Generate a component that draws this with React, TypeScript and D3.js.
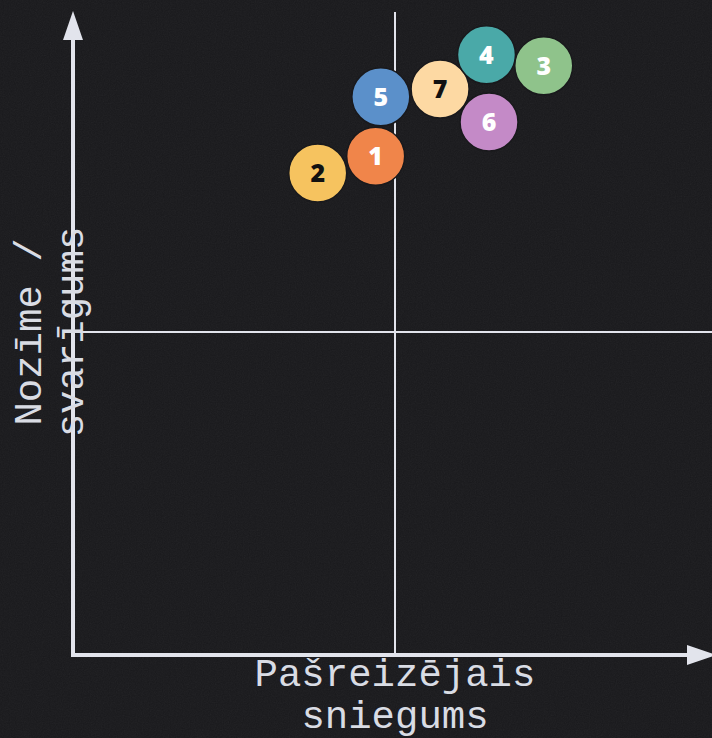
import React from "react";
import * as d3 from "d3";

const ids = ["1", "2", "3", "4", "5", "6", "7"];
const performance = [4.7, 3.8, 7.31, 6.42, 4.78, 6.46, 5.7];
const importance = [7.72, 7.46, 9.12, 9.29, 8.64, 8.25, 8.76];
const fills = ["#f0854a", "#f6c35f", "#8fc38b", "#4aa9a8", "#5b90ca", "#c48ac7", "#fdd9a3"];
const textColors = ["#ffffff", "#111111", "#ffffff", "#ffffff", "#ffffff", "#ffffff", "#111111"];
const drawOrder = [1, 0, 4, 6, 3, 2, 5];
const xLabelLines = ["Pašreizējais", "sniegums"];
const yLabelLines = ["Nozīme /", "svarīgums"];

const W = 712;
const H = 738;

export default function App() {
  const x = d3.scaleLinear().domain([0, 10]).range([73, 717]);
  const y = d3.scaleLinear().domain([0, 10]).range([655, 9]);
  const r = 29;
  const axisColor = "#e2e4ec";
  const textColor = "#d9dce4";
  const bg = "#19191c";
  const font = "'Liberation Mono', 'DejaVu Sans Mono', monospace";
  const x0 = x(0);
  const y0 = y(0);
  const xm = x(5);
  const ym = y(5);

  return (
    <svg
      width={W}
      height={H}
      style={{ position: "absolute", left: 0, top: 0, display: "block" }}
    >
      <defs>
        <filter id="noise" x="0" y="0" width="100%" height="100%">
          <feTurbulence type="fractalNoise" baseFrequency="0.85" numOctaves="2" seed="3" />
          <feColorMatrix type="saturate" values="0" />
        </filter>
      </defs>
      <rect width={W} height={H} fill={bg} />
      <rect width={W} height={H} filter="url(#noise)" opacity={0.06} />

      {/* quadrant lines */}
      <line x1={xm} x2={xm} y1={12} y2={y0} stroke={axisColor} strokeWidth={2} />
      <line x1={x0} x2={W} y1={ym} y2={ym} stroke={axisColor} strokeWidth={2} />

      {/* axes */}
      <line x1={x0} x2={x0} y1={y0 + 2} y2={36} stroke={axisColor} strokeWidth={4} />
      <path d={`M${x0},${11} L${x0 - 10},${40} L${x0 + 10},${40} Z`} fill={axisColor} />
      <line x1={x0 - 2} x2={690} y1={y0} y2={y0} stroke={axisColor} strokeWidth={4} />
      <path d={`M${716},${y0} L${687},${y0 - 10} L${687},${y0 + 10} Z`} fill={axisColor} />

      {/* points */}
      {drawOrder.map((i) => (
        <g key={ids[i]}>
          <circle
            cx={x(performance[i])}
            cy={y(importance[i])}
            r={r}
            fill={fills[i]}
            stroke={bg}
            strokeWidth={1.5}
          />
          <text
            x={x(performance[i])}
            y={y(importance[i])}
            dy="0.36em"
            textAnchor="middle"
            fontFamily="'Open Sans', Inter, sans-serif"
            fontWeight={800}
            fontSize={25}
            fill={textColors[i]}
          >
            {ids[i]}
          </text>
        </g>
      ))}

      {/* x label */}
      {xLabelLines.map((t, k) => (
        <text
          key={t}
          x={xm}
          y={686 + k * 42}
          textAnchor="middle"
          fontFamily={font}
          fontSize={39}
          fill={textColor}
        >
          {t}
        </text>
      ))}

      {/* y label */}
      {yLabelLines.map((t, k) => (
        <text
          key={t}
          transform={`translate(${41 + k * 42},${ym}) rotate(-90)`}
          textAnchor="middle"
          fontFamily={font}
          fontSize={39}
          fill={textColor}
        >
          {t}
        </text>
      ))}
    </svg>
  );
}
